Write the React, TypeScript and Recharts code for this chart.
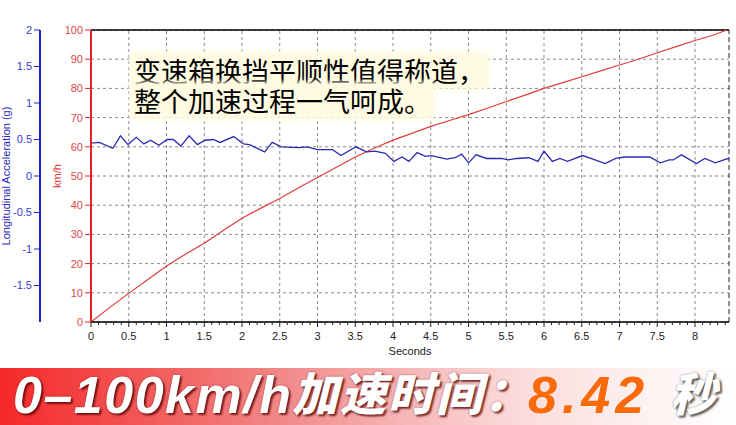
import React from 'react';
import { LineChart, Line, XAxis, YAxis, CartesianGrid, ReferenceLine, Label } from 'recharts';

// speed trace (km/h) against time (s)
const speedTime = [0, 0.25, 0.5, 0.75, 1, 1.25, 1.5, 1.75, 2, 2.25, 2.5, 2.75, 3, 3.25, 3.5, 3.75, 4, 4.25, 4.5, 4.75, 5, 5.25, 5.5, 5.75, 6, 6.25, 6.5, 6.75, 7, 7.25, 7.5, 7.75, 8, 8.25, 8.42];
const speedKmh = [0, 5, 9.8, 14.5, 19.2, 23.2, 27, 31.3, 35.5, 39, 42.3, 46, 49.5, 53, 56.5, 59.5, 62.3, 64.6, 67, 69, 71, 73.2, 75.5, 77.7, 80, 82, 84, 86, 88, 90, 92.2, 94.3, 96.4, 98.3, 100];

// longitudinal acceleration (g) against time (s)
const accelTime = [0, 0.11, 0.29, 0.39, 0.49, 0.6, 0.7, 0.79, 0.9, 1.01, 1.09, 1.19, 1.3, 1.41, 1.51, 1.62, 1.71, 1.89, 2.02, 2.1, 2.3, 2.4, 2.52, 2.75, 2.86, 3.0, 3.2, 3.31, 3.51, 3.65, 3.76, 3.9, 4.01, 4.12, 4.21, 4.32, 4.43, 4.51, 4.71, 4.82, 4.91, 5.0, 5.1, 5.24, 5.44, 5.52, 5.64, 5.8, 5.92, 6.0, 6.11, 6.21, 6.31, 6.51, 6.62, 6.81, 6.95, 7.07, 7.4, 7.54, 7.66, 7.71, 7.82, 8.02, 8.13, 8.27, 8.41, 8.45];
const accelG = [0.45, 0.46, 0.38, 0.55, 0.43, 0.53, 0.44, 0.49, 0.42, 0.5, 0.5, 0.41, 0.55, 0.43, 0.49, 0.5, 0.46, 0.54, 0.44, 0.43, 0.33, 0.46, 0.4, 0.39, 0.4, 0.36, 0.36, 0.28, 0.4, 0.33, 0.34, 0.31, 0.2, 0.26, 0.2, 0.32, 0.27, 0.28, 0.23, 0.25, 0.3, 0.18, 0.29, 0.24, 0.24, 0.22, 0.24, 0.25, 0.2, 0.34, 0.2, 0.24, 0.2, 0.28, 0.24, 0.17, 0.24, 0.26, 0.26, 0.18, 0.22, 0.22, 0.29, 0.17, 0.24, 0.18, 0.23, 0.24];

const secondLabels = [0, 0.5, 1, 1.5, 2, 2.5, 3, 3.5, 4, 4.5, 5, 5.5, 6, 6.5, 7, 7.5, 8];
const kmhTicks = [0, 10, 20, 30, 40, 50, 60, 70, 80, 90, 100];
const gTicks = [-1.5, -1, -0.5, 0, 0.5, 1, 1.5, 2];
const xMax = 8.45;

const speedData = speedTime.map((t, i) => ({ t, kmh: speedKmh[i] }));
const accelData = accelTime.map((t, i) => ({ t, g: accelG[i] }));
// minor ticks every 0.1 s along the time axis
const timeTicks = Array.from({ length: 85 }, (_, i) => i / 10);

const noteLines = ['变速箱换挡平顺性值得称道，', '整个加速过程一气呵成。'];

const axisFont = '"Liberation Sans", Arial, sans-serif';
const cjkFont = '"Noto Sans CJK SC", sans-serif';

// axis ids: the one sorting first sits next to the plot
const SPEED = 'a-speed';
const ACCEL = 'b-accel';

const SecondsTick = (props: any) => {
	const { x, y, payload } = props;
	const v = payload.value;
	const major = secondLabels.some(s => Math.abs(s - v) < 1e-6);
	return (
		<g>
			<line x1={x} x2={x} y1={y} y2={y + (major ? 5 : 3)} stroke="#222" />
			{major && (
				<text x={x} y={y + 18} textAnchor="middle" fontSize={11} fontFamily={axisFont} fill="#222">
					{v}
				</text>
			)}
		</g>
	);
};

const sideLabel = (text: string, dx: number, color: string) => (props: any) => {
	const { x, y, height } = props.viewBox;
	const cx = x + dx;
	const cy = y + height / 2;
	return (
		<text
			x={cx}
			y={cy}
			transform={`rotate(-90 ${cx} ${cy})`}
			textAnchor="middle"
			dominantBaseline="central"
			fontSize={11}
			fontFamily={axisFont}
			fill={color}
		>
			{text}
		</text>
	);
};

const bannerWhite: React.CSSProperties = {
	position: 'absolute',
	color: '#fff',
	textShadow: '2px 2px 2px rgba(90,0,0,0.75), 0 0 2px rgba(90,0,0,0.55)',
	whiteSpace: 'nowrap',
	lineHeight: 'normal',
};

const noteLine: React.CSSProperties = {
	display: 'inline-block',
	background: '#fffbe2',
	boxShadow: '0 0 5px 4px #fffbe2',
	fontFamily: cjkFont,
	fontSize: 27,
	lineHeight: '30px',
	color: '#000',
	whiteSpace: 'nowrap',
};

export default function App() {
	return (
		<div style={{ position: 'absolute', left: 0, top: 0, width: 736, height: 425, background: '#fff', overflow: 'hidden' }}>
			<LineChart width={736} height={362} margin={{ top: 30, right: 7, bottom: 0, left: 0 }}>
				<CartesianGrid yAxisId={SPEED} vertical={false} stroke="#8a8a8a" strokeDasharray="3 3" />
				<XAxis
					dataKey="t"
					type="number"
					domain={[0, xMax]}
					allowDataOverflow
					ticks={timeTicks}
					interval={0}
					tickLine={false}
					tickSize={0}
					tickMargin={0}
					tick={SecondsTick}
					height={40}
					axisLine={{ stroke: '#000', strokeWidth: 1.5 }}
				>
					<Label value="Seconds" position="insideBottom" offset={7} fontSize={11} fontFamily={axisFont} fill="#222" />
				</XAxis>
				<YAxis
					yAxisId={SPEED}
					domain={[0, 100]}
					ticks={kmhTicks}
					interval={0}
					width={51}
					tick={{ fill: '#e04848', fontSize: 11, fontFamily: axisFont }}
					tickLine={{ stroke: '#e02424' }}
					axisLine={{ stroke: '#e02424', strokeWidth: 2 }}
				>
					<Label content={sideLabel('km/h', 17, '#e03030')} />
				</YAxis>
				<YAxis
					yAxisId={ACCEL}
					domain={[-2, 2]}
					ticks={gTicks}
					interval={0}
					width={40}
					tick={{ fill: '#3a3ad0', fontSize: 11, fontFamily: axisFont }}
					tickLine={{ stroke: '#2020c8' }}
					axisLine={{ stroke: '#2020c8', strokeWidth: 2 }}
				>
					<Label content={sideLabel('Longitudinal Acceleration (g)', 6, '#2a2ac0')} />
				</YAxis>
				{secondLabels.slice(1).map(s => (
					<ReferenceLine key={s} x={s} yAxisId={SPEED} stroke="#8a8a8a" strokeDasharray="3 3" />
				))}
				<ReferenceLine y={100} yAxisId={SPEED} stroke="#000" strokeWidth={1.5} />
				<ReferenceLine x={xMax} yAxisId={SPEED} stroke="#222" strokeDasharray="5 3" />
				<Line
					data={speedData}
					yAxisId={SPEED}
					dataKey="kmh"
					type="linear"
					stroke="#e03c3c"
					strokeWidth={1.2}
					dot={false}
					isAnimationActive={false}
				/>
				<Line
					data={accelData}
					yAxisId={ACCEL}
					dataKey="g"
					type="linear"
					stroke="#2b2bb0"
					strokeWidth={1.3}
					dot={false}
					isAnimationActive={false}
				/>
			</LineChart>

			<div style={{ position: 'absolute', left: 134, top: 56 }}>
				{noteLines.map(line => (
					<div key={line} style={{ height: 30 }}>
						<span style={noteLine}>{line}</span>
					</div>
				))}
			</div>

			<div
				style={{
					position: 'absolute',
					left: 0,
					top: 368,
					width: 736,
					height: 57,
					background: 'linear-gradient(90deg, #f52828 0%, #f35454 18%, #f28888 38%, #f6b6b6 55%, #fbdada 70%, #fdeeee 85%, #ffffff 100%)',
				}}
			/>
			<span style={{ ...bannerWhite, left: 13, top: 365, fontFamily: axisFont, fontWeight: 'bold', fontStyle: 'italic', fontSize: 52, letterSpacing: 1.5 }}>
				0–100km/h
			</span>
			<span style={{ ...bannerWhite, left: 292, top: 358, fontFamily: cjkFont, fontWeight: 900, fontStyle: 'italic', fontSize: 46, letterSpacing: 2 }}>
				加速时间：
			</span>
			<span style={{ position: 'absolute', left: 528, top: 365, fontFamily: axisFont, fontWeight: 'bold', fontStyle: 'italic', fontSize: 52, letterSpacing: 5, lineHeight: 'normal', whiteSpace: 'nowrap', color: '#fa6a0a', textShadow: '0 0 2px rgba(255,255,255,0.8)' }}>
				8.42
			</span>
			<span style={{ ...bannerWhite, left: 670, top: 358, fontFamily: cjkFont, fontWeight: 900, fontStyle: 'italic', fontSize: 46, textShadow: '2px 2px 2px rgba(60,60,60,0.8), 0 0 2px rgba(60,60,60,0.6)' }}>
				秒
			</span>
		</div>
	);
}
